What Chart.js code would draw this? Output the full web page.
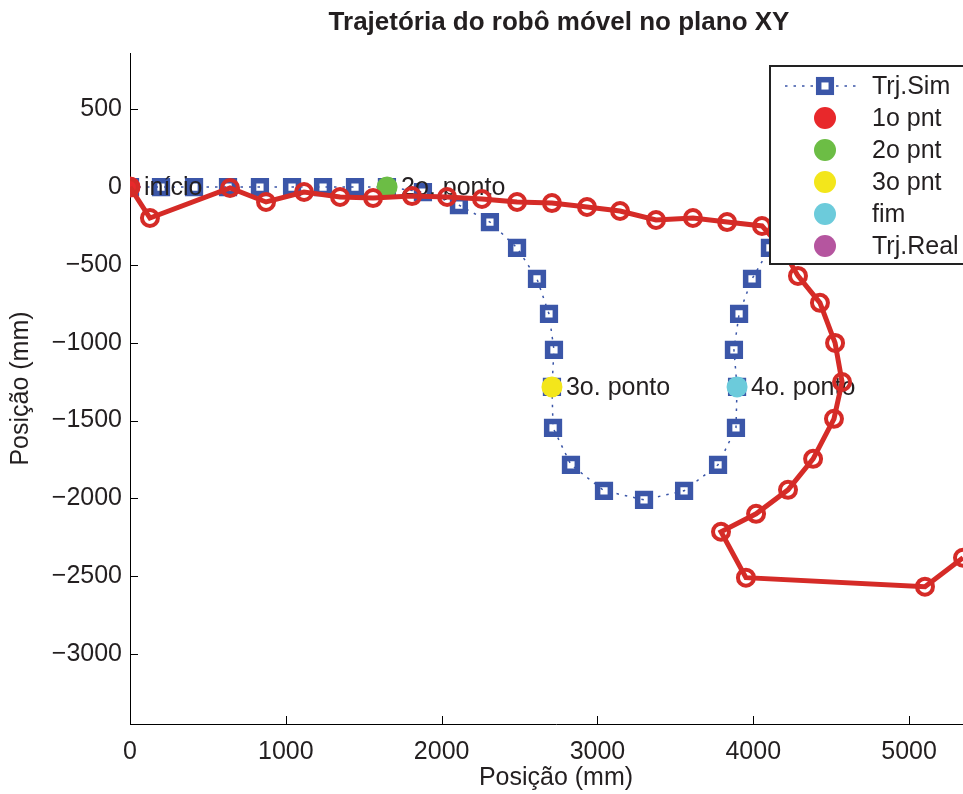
<!DOCTYPE html>
<html>
<head>
<meta charset="utf-8">
<script src="https://cdn.jsdelivr.net/npm/chart.js@4/dist/chart.umd.min.js"></script>
<style>
  html, body { margin: 0; padding: 0; overflow: hidden; background: #fff; }
  canvas { display: block; }
</style>
</head>
<body>
<canvas id="trajetoria" width="982" height="794"></canvas>
<script>
// trajetória simulada (mm)
const simX = [0, 199, 411, 629, 834, 1040, 1239, 1444, 1649, 1880, 2111, 2310, 2484, 2612, 2689, 2721, 2708, 2715, 2830, 3042, 3299, 3556, 3774, 3889, 3896, 3876, 3909, 3992, 4107, 4240];
const simY = [0, 0, 0, 0, 0, 0, 0, 0, 0, -32, -116, -225, -391, -590, -815, -1046, -1284, -1547, -1784, -1951, -2009, -1951, -1784, -1547, -1284, -1046, -815, -590, -391, -220];

// trajetória real do robô (mm)
const realX = [0, 128, 642, 873, 1117, 1348, 1560, 1810, 2035, 2259, 2484, 2708, 2933, 3145, 3376, 3613, 3832, 4056, 4191, 4287, 4428, 4525, 4570, 4518, 4384, 4223, 4018, 3793, 3953, 5102, 5346];
const realY = [0, -199, -6, -96, -32, -64, -71, -58, -64, -77, -96, -103, -128, -154, -212, -199, -225, -250, -404, -571, -744, -1001, -1252, -1489, -1746, -1945, -2099, -2214, -2509, -2567, -2381];

// pontos de passagem
const pontoX = [0, 1650, 2708, 3896];
const pontoY = [0, 0, -1284, -1284];
const pontoTexto = ['início', '2o. ponto', '3o. ponto', '4o. ponto'];
const pontoCor = ['#e8282b', '#6cbd45', '#f3e61b', '#6ccbdb'];

const legendaTexto = ['Trj.Sim', '1o pnt', '2o pnt', '3o pnt', 'fim', 'Trj.Real'];
const legendaCor = ['#3b56a8', '#e8282b', '#6cbd45', '#f3e61b', '#6ccbdb', '#b5559f'];

const xTicks = [0, 1000, 2000, 3000, 4000, 5000];
const yTicks = [500, 0, -500, -1000, -1500, -2000, -2500, -3000];

const FONTE = "'Liberation Sans', Arial, Helvetica, sans-serif";
const AZUL = '#3b56a8';
const VERMELHO = '#d52b27';
const TEXTO = '#231f20';

const pares = (xs, ys) => xs.map((x, i) => ({x: x, y: ys[i]}));

// marcas de escala para dentro dos eixos
const marcasInternas = {
  id: 'marcasInternas',
  beforeDatasetsDraw(chart) {
    const {ctx, chartArea, scales} = chart;
    ctx.save();
    ctx.strokeStyle = '#000';
    ctx.lineWidth = 1;
    ctx.beginPath();
    xTicks.forEach(v => {
      const p = Math.round(scales.x.getPixelForValue(v)) + 0.5;
      ctx.moveTo(p, chartArea.bottom);
      ctx.lineTo(p, chartArea.bottom - 8);
    });
    yTicks.forEach(v => {
      const p = Math.round(scales.y.getPixelForValue(v)) + 0.5;
      ctx.moveTo(chartArea.left, p);
      ctx.lineTo(chartArea.left + 8, p);
    });
    ctx.stroke();
    ctx.restore();
  }
};

// rótulos dos pontos, desenhados antes da trajetória real
const rotulos = {
  id: 'rotulos',
  afterDatasetDraw(chart, args) {
    if (args.index !== 1) return;
    const {ctx, scales} = chart;
    ctx.save();
    ctx.font = '25px ' + FONTE;
    ctx.fillStyle = TEXTO;
    ctx.textBaseline = 'middle';
    pontoTexto.forEach((t, i) => {
      const px = scales.x.getPixelForValue(pontoX[i]);
      const py = scales.y.getPixelForValue(pontoY[i]);
      ctx.fillText(t, px + 14, py + 1);
    });
    ctx.restore();
  }
};

const titulo = {
  id: 'titulo',
  afterDraw(chart) {
    const {ctx, chartArea} = chart;
    ctx.save();
    ctx.font = 'bold 26px ' + FONTE;
    ctx.fillStyle = TEXTO;
    ctx.textAlign = 'center';
    ctx.textBaseline = 'middle';
    ctx.fillText('Trajetória do robô móvel no plano XY', (chartArea.left + chartArea.right) / 2 + 3, 23);
    ctx.restore();
  }
};

// legenda no canto superior direito, com moldura
const legenda = {
  id: 'legenda',
  afterDraw(chart) {
    const {ctx} = chart;
    const x0 = 770, y0 = 66, w = 206, h = 198;
    ctx.save();
    ctx.fillStyle = '#fff';
    ctx.fillRect(x0, y0, w, h);
    ctx.strokeStyle = '#222';
    ctx.lineWidth = 2;
    ctx.strokeRect(x0, y0, w, h);
    ctx.font = '25px ' + FONTE;
    ctx.textBaseline = 'middle';
    legendaTexto.forEach((t, i) => {
      const cy = y0 + 20 + i * 32;
      const cx = x0 + 55;
      if (i === 0) {
        ctx.strokeStyle = AZUL;
        ctx.lineWidth = 1.5;
        ctx.setLineDash([2.5, 6]);
        ctx.beginPath();
        ctx.moveTo(x0 + 15, cy);
        ctx.lineTo(x0 + 90, cy);
        ctx.stroke();
        ctx.setLineDash([]);
        ctx.fillStyle = '#fff';
        ctx.fillRect(cx - 9, cy - 9, 18, 18);
        ctx.lineWidth = 5.5;
        ctx.strokeRect(cx - 6.3, cy - 6.3, 12.6, 12.6);
      } else {
        ctx.fillStyle = legendaCor[i];
        ctx.beginPath();
        ctx.arc(cx, cy, 11, 0, Math.PI * 2);
        ctx.fill();
      }
      ctx.fillStyle = TEXTO;
      ctx.fillText(t, x0 + 102, cy + 1);
    });
    ctx.restore();
  }
};

new Chart(document.getElementById('trajetoria'), {
  type: 'scatter',
  data: {
    datasets: [
      {
        label: 'Trj.Sim',
        data: pares(simX, simY),
        showLine: true,
        borderColor: AZUL,
        borderWidth: 1.5,
        borderDash: [2.5, 6],
        pointStyle: 'rect',
        pointRadius: 9,
        pointBorderWidth: 5.5,
        pointBorderColor: AZUL,
        pointBackgroundColor: 'rgba(0,0,0,0)',
        order: 3
      },
      {
        label: 'pontos',
        data: pares(pontoX, pontoY),
        showLine: false,
        pointRadius: 10.5,
        pointBorderWidth: 0,
        pointBackgroundColor: pontoCor,
        pointBorderColor: pontoCor,
        order: 2
      },
      {
        label: 'Trj.Real',
        data: pares(realX, realY),
        showLine: true,
        borderColor: VERMELHO,
        borderWidth: 5,
        pointStyle: 'circle',
        pointRadius: 8,
        pointBorderWidth: 4,
        pointBorderColor: VERMELHO,
        pointBackgroundColor: 'rgba(0,0,0,0)',
        order: 1
      }
    ]
  },
  options: {
    responsive: false,
    animation: false,
    events: [],
    devicePixelRatio: 1,
    layout: { autoPadding: false, padding: { top: 53, left: 0, right: 0, bottom: 0 } },
    plugins: { legend: { display: false }, tooltip: { enabled: false } },
    scales: {
      x: {
        type: 'linear',
        min: 0,
        max: 5468,
        afterBuildTicks: s => { s.ticks = xTicks.map(v => ({value: v})); },
        afterFit: s => { s.height = 70; s.paddingLeft = s.paddingRight = 0; },
        grid: { display: false, drawTicks: false },
        border: { display: true, color: '#000', width: 1 },
        ticks: {
          color: TEXTO,
          font: { family: FONTE, size: 25 },
          padding: 13,
          maxRotation: 0,
          callback: v => String(v)
        },
        title: { display: true, text: 'Posição (mm)', color: TEXTO, font: { family: FONTE, size: 25 }, padding: { top: 0, bottom: 1 } }
      },
      y: {
        type: 'linear',
        min: -3449,
        max: 861,
        afterBuildTicks: s => { s.ticks = yTicks.map(v => ({value: v})); },
        afterFit: s => { s.width = 130; s.paddingTop = s.paddingBottom = 0; },
        grid: { display: false, drawTicks: false },
        border: { display: true, color: '#000', width: 1 },
        ticks: {
          color: TEXTO,
          font: { family: FONTE, size: 25 },
          padding: 8,
          callback: v => (v < 0 ? '\u2212' + Math.abs(v) : String(v))
        },
        title: { display: true, text: 'Posição (mm)', color: TEXTO, font: { family: FONTE, size: 25 }, padding: { top: 6, bottom: 0 } }
      }
    }
  },
  plugins: [marcasInternas, rotulos, titulo, legenda]
});
</script>
</body>
</html>
